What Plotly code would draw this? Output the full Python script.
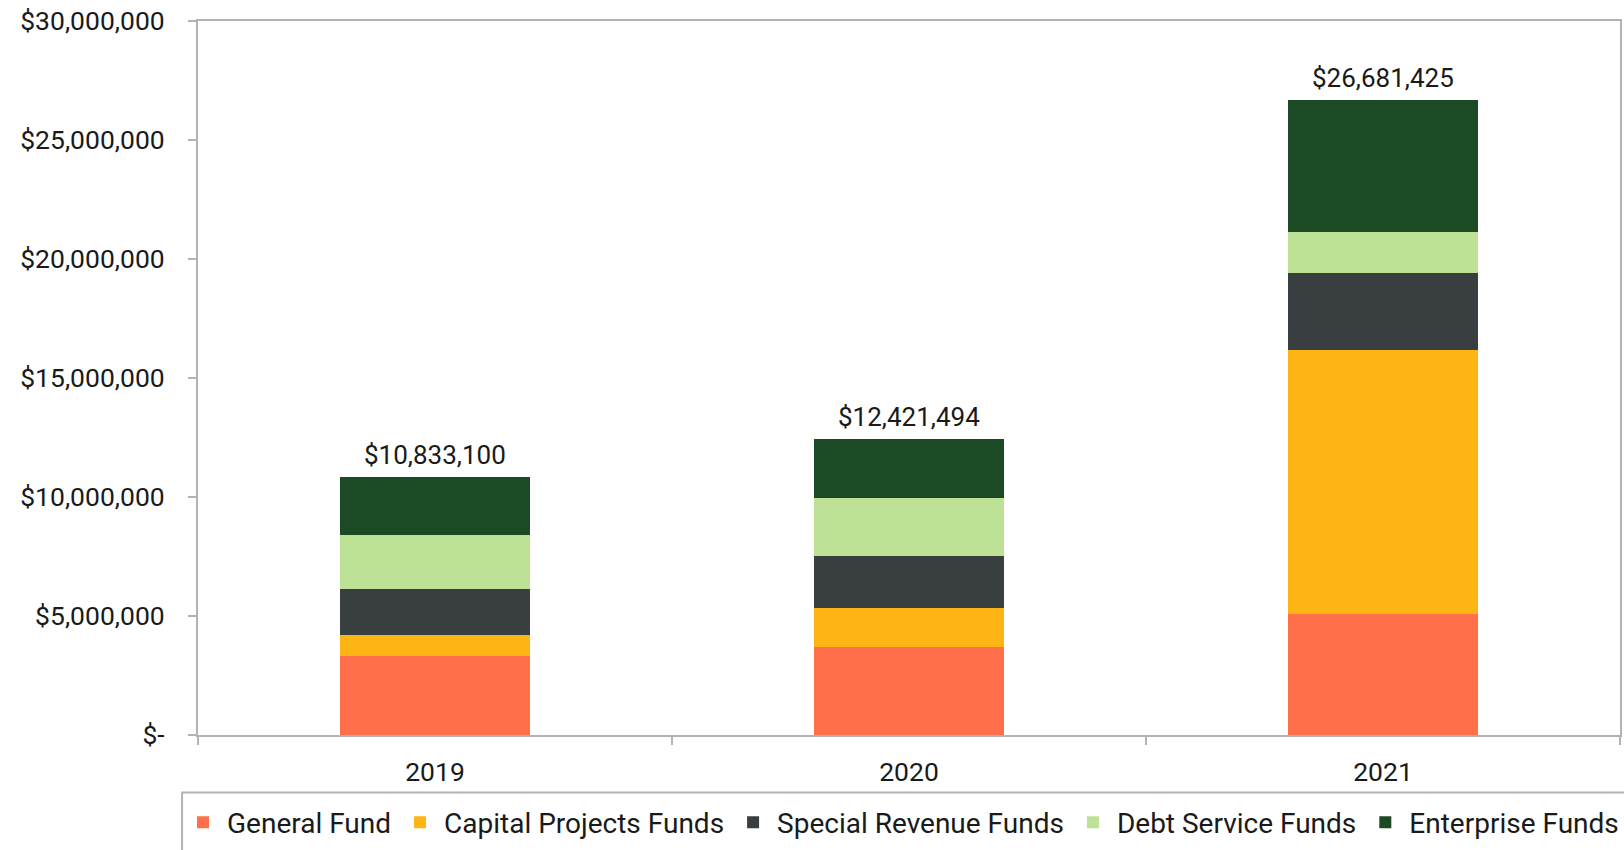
import plotly.graph_objects as go

# Fund balances by year (USD)
years = ["2019", "2020", "2021"]
general_fund = [3_320_000, 3_690_000, 5_080_000]
capital_projects = [900_000, 1_660_000, 11_080_000]
special_revenue = [1_910_000, 2_180_000, 3_240_000]
debt_service = [2_270_000, 2_440_000, 1_750_000]
enterprise = [2_433_100, 2_451_494, 5_531_425]

series_names = ["General Fund", "Capital Projects Funds", "Special Revenue Funds",
                "Debt Service Funds", "Enterprise Funds"]
series_colors = ["#FF6F49", "#FDB515", "#393E41", "#BDE296", "#1C4A25"]

y_tick_values = [0, 5_000_000, 10_000_000, 15_000_000, 20_000_000, 25_000_000, 30_000_000]
y_tick_labels = ["$-", "$5,000,000", "$10,000,000", "$15,000,000",
                 "$20,000,000", "$25,000,000", "$30,000,000"]

series_values = [general_fund, capital_projects, special_revenue, debt_service, enterprise]
totals = [sum(v) for v in zip(*series_values)]

FONT = "Roboto"
TEXT = "#1a1a1a"
AXIS = "#B3B3B3"

fig = go.Figure()
for name, vals, col in zip(series_names, series_values, series_colors):
    fig.add_trace(go.Bar(x=years, y=vals, name=name, marker_color=col,
                         marker_line_width=0))

# Total labels above each stack (category index positions)
for i, tot in enumerate(totals):
    fig.add_annotation(x=i, y=tot, text=f"${tot:,.0f}", showarrow=False,
                       yanchor="bottom", yshift=5,
                       font=dict(family=FONT, size=26, color=TEXT))

# Legend frame
fig.add_shape(type="rect", xref="paper", yref="paper",
              x0=-0.0112, x1=1.05, y0=-0.0805, y1=-0.5,
              line=dict(color=AXIS, width=2), fillcolor="rgba(0,0,0,0)")

fig.update_layout(
    barmode="stack",
    bargap=0.6,
    width=1624, height=850,
    margin=dict(l=198, r=2, t=21, b=114),
    paper_bgcolor="white", plot_bgcolor="white",
    font=dict(family=FONT, color=TEXT),
    showlegend=True,
    legend=dict(orientation="h", x=-0.003, xanchor="left",
                y=-0.1225, yanchor="middle",
                font=dict(family=FONT, size=28, color=TEXT),
                bgcolor="rgba(0,0,0,0)", borderwidth=0,
                itemwidth=38,
                traceorder="normal"),
)

fig.update_xaxes(type="category", range=[-0.5, 2.5], showgrid=False, showline=True,
                 linecolor=AXIS, linewidth=2, mirror=True, ticks="outside",
                 tickson="boundaries", ticklen=8, tickcolor=AXIS, tickwidth=2,
                 tickfont=dict(family=FONT, size=26.5, color=TEXT),
                 ticklabelstandoff=12)
fig.update_yaxes(range=[0, 30_000_000], tickvals=y_tick_values, ticktext=y_tick_labels,
                 showgrid=False, zeroline=False, showline=True, linecolor=AXIS,
                 linewidth=2, mirror=True, ticks="outside", ticklen=8,
                 tickcolor=AXIS, tickwidth=2,
                 tickfont=dict(family=FONT, size=26.5, color=TEXT),
                 ticklabelstandoff=18)

fig.write_html("out.html")
